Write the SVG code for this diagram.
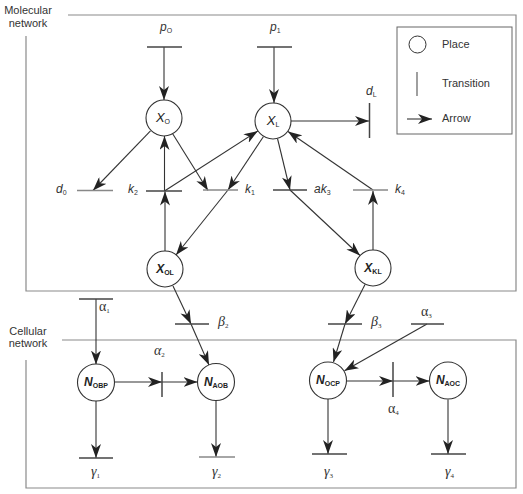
<svg xmlns="http://www.w3.org/2000/svg" width="523" height="494" viewBox="0 0 523 494">
<style>
.frame{fill:none;stroke:#8a8a8a;stroke-width:1.2}
.place{fill:#fff;stroke:#333;stroke-width:1.1}
.bar{stroke:#444;stroke-width:1.5}
.bar2{stroke:#888;stroke-width:1.6}
.arc{fill:none;stroke:#333;stroke-width:1.1;marker-end:url(#ah)}
.line{fill:none;stroke:#333;stroke-width:1.1}
.lbl{font-family:"Liberation Sans",Arial,sans-serif;font-size:11px;fill:#333}
.var{font-family:"Liberation Sans",Arial,sans-serif;font-size:12px;font-style:italic;fill:#333}
.grk{font-family:"Liberation Serif","Times New Roman",serif;font-size:14px;fill:#333}
.sub{font-size:7px;font-style:normal}
.nl{font-family:"Liberation Sans",Arial,sans-serif;font-size:13px;font-style:italic;fill:#222}
.nb{font-family:"Liberation Sans",Arial,sans-serif;font-size:12px;font-style:italic;font-weight:bold;fill:#222}
</style>
<defs>
<marker id="ah" markerUnits="userSpaceOnUse" markerWidth="14" markerHeight="10" refX="14" refY="5" orient="auto">
<path d="M0,0 L14,5 L0,10 L4,5 z" fill="#222"/>
</marker>
</defs>

<g id="frames">
<path class="frame" d="M68,15 H516 V291 H26 V36"/>
<path class="frame" d="M62,340 H516 V488 H26 V360"/>
<text class="lbl" x="28" y="13.5" text-anchor="middle">Molecular</text>
<text class="lbl" x="28" y="26.5" text-anchor="middle">network</text>
<text class="lbl" x="28" y="335" text-anchor="middle">Cellular</text>
<text class="lbl" x="28" y="347" text-anchor="middle">network</text>
</g>

<g id="legend">
<rect x="397" y="27" width="115" height="107" fill="none" stroke="#666" stroke-width="1"/>
<circle cx="417.5" cy="44.5" r="8.5" fill="none" stroke="#333" stroke-width="1"/>
<line x1="417" y1="72" x2="417" y2="96" class="bar2"/>
<line x1="407" y1="119" x2="432" y2="119" class="arc"/>
<text class="lbl" x="442" y="48">Place</text>
<text class="lbl" x="442" y="87">Transition</text>
<text class="lbl" x="442" y="122">Arrow</text>
</g>

<g id="connectors">
<line class="arc" x1="164" y1="47" x2="164" y2="100"/>
<line class="arc" x1="274" y1="47" x2="274" y2="103"/>
<line class="arc" x1="291" y1="121" x2="369" y2="121"/>
<line class="arc" x1="150.5" y1="130.8" x2="93" y2="190.5"/>
<line class="arc" x1="172.5" y1="133.5" x2="208" y2="190.5"/>
<line class="arc" x1="164.5" y1="191" x2="164.5" y2="136"/>
<line class="arc" x1="165" y1="251" x2="165" y2="191.5"/>
<line class="arc" x1="164.5" y1="191" x2="257.8" y2="131"/>
<line class="arc" x1="263.5" y1="136.5" x2="228" y2="190"/>
<line class="arc" x1="228" y1="190" x2="176" y2="255"/>
<line class="arc" x1="277.5" y1="138.5" x2="290" y2="190"/>
<line class="arc" x1="290" y1="190" x2="360" y2="255.5"/>
<line class="arc" x1="373" y1="250" x2="373" y2="191"/>
<line class="arc" x1="373" y1="190" x2="288" y2="131.5"/>
<line class="arc" x1="173" y1="286" x2="191" y2="324"/>
<line class="arc" x1="191" y1="324" x2="209" y2="365"/>
<line class="arc" x1="365" y1="284.5" x2="345" y2="324"/>
<line class="arc" x1="345" y1="324" x2="333.5" y2="362"/>
<line class="arc" x1="427" y1="324" x2="344.5" y2="370.8"/>
<line class="arc" x1="96" y1="299" x2="96" y2="364.5"/>
<line class="arc" x1="114.5" y1="382" x2="162" y2="382"/>
<line class="arc" x1="162" y1="382" x2="197.5" y2="382"/>
<line class="arc" x1="347" y1="381" x2="393" y2="381"/>
<line class="arc" x1="393" y1="381" x2="429.5" y2="381"/>
<line class="arc" x1="96" y1="401" x2="96" y2="458"/>
<line class="arc" x1="216" y1="400.5" x2="216" y2="457"/>
<line class="arc" x1="328" y1="399" x2="328" y2="454"/>
<line class="arc" x1="448" y1="399.5" x2="448" y2="454"/>
</g>

<g id="t_pO"><line class="bar" x1="147" y1="47" x2="182" y2="47"/><text class="var" x="160" y="31">p<tspan class="sub" dy="2">O</tspan></text></g>
<g id="t_p1"><line class="bar" x1="257" y1="47" x2="292" y2="47"/><text class="var" x="270" y="31">p<tspan class="sub" dy="2">1</tspan></text></g>
<g id="t_dL"><line class="bar" x1="369.5" y1="103" x2="369.5" y2="138"/><text class="var" x="366" y="95">d<tspan class="sub" dy="2">L</tspan></text></g>
<g id="t_d0"><line class="bar2" x1="77" y1="190.5" x2="113" y2="190.5"/><text class="var" x="56" y="193">d<tspan class="sub" dy="2">0</tspan></text></g>
<g id="t_k2"><line class="bar" x1="146" y1="191" x2="182" y2="191"/><text class="var" x="128" y="193">k<tspan class="sub" dy="2">2</tspan></text></g>
<g id="t_k1"><line class="bar2" x1="203" y1="190" x2="238" y2="190"/><text class="var" x="245" y="193">k<tspan class="sub" dy="2">1</tspan></text></g>
<g id="t_ak3"><line class="bar" x1="273" y1="190" x2="307" y2="190"/><text class="var" x="314" y="193">ak<tspan class="sub" dy="2">3</tspan></text></g>
<g id="t_k4"><line class="bar2" x1="353" y1="190" x2="388" y2="190"/><text class="var" x="395" y="193">k<tspan class="sub" dy="2">4</tspan></text></g>
<g id="t_a1"><line class="bar" x1="79" y1="299" x2="113" y2="299"/><text class="grk" x="99" y="311">α<tspan class="sub" dy="2">1</tspan></text></g>
<g id="t_b2"><line class="bar" x1="175" y1="324" x2="209" y2="324"/><text class="grk" x="218" y="326" font-style="italic">β<tspan class="sub" dy="2">2</tspan></text></g>
<g id="t_a2"><line class="bar" x1="162" y1="372" x2="162" y2="397"/><text class="grk" x="154" y="355" font-style="italic">α<tspan class="sub" dy="2">2</tspan></text></g>
<g id="t_b3"><line class="bar" x1="328" y1="324" x2="362" y2="324"/><text class="grk" x="371" y="326" font-style="italic">β<tspan class="sub" dy="2">3</tspan></text></g>
<g id="t_a3"><line class="bar" x1="411" y1="324" x2="444" y2="324"/><text class="grk" x="421" y="316">α<tspan class="sub" dy="2">3</tspan></text></g>
<g id="t_a4"><line class="bar" x1="393" y1="362" x2="393" y2="397"/><text class="grk" x="388" y="413">α<tspan class="sub" dy="2">4</tspan></text></g>
<g id="t_g1"><line class="bar" x1="79" y1="458" x2="113" y2="458"/><text class="grk" x="91" y="476" font-style="italic">γ<tspan class="sub" dy="2">1</tspan></text></g>
<g id="t_g2"><line class="bar2" x1="199" y1="457" x2="235" y2="457"/><text class="grk" x="212" y="476" font-style="italic">γ<tspan class="sub" dy="2">2</tspan></text></g>
<g id="t_g3"><line class="bar" x1="312" y1="454" x2="347" y2="454"/><text class="grk" x="324" y="476" font-style="italic">γ<tspan class="sub" dy="2">3</tspan></text></g>
<g id="t_g4"><line class="bar" x1="431" y1="454" x2="466" y2="454"/><text class="grk" x="445" y="476" font-style="italic">γ<tspan class="sub" dy="2">4</tspan></text></g>

<g id="p_XO"><circle class="place" cx="164" cy="118" r="18"/><text class="nl" x="163" y="122" text-anchor="middle">X<tspan class="sub" dy="2">O</tspan></text></g>
<g id="p_XL"><circle class="place" cx="273" cy="121" r="18"/><text class="nl" x="273" y="125" text-anchor="middle">X<tspan class="sub" dy="2">L</tspan></text></g>
<g id="p_XOL"><circle class="place" cx="165" cy="269" r="18"/><text class="nb" x="165" y="273" text-anchor="middle">X<tspan class="sub" dy="2" font-weight="bold">OL</tspan></text></g>
<g id="p_XKL"><circle class="place" cx="373" cy="268" r="18"/><text class="nb" x="373" y="272" text-anchor="middle">X<tspan class="sub" dy="2" font-weight="bold">KL</tspan></text></g>
<g id="p_NOBP"><circle class="place" cx="96" cy="382.5" r="18.5"/><text class="nb" x="96" y="386" text-anchor="middle">N<tspan class="sub" dy="2" font-weight="bold">OBP</tspan></text></g>
<g id="p_NAOB"><circle class="place" cx="216" cy="382" r="18.5"/><text class="nb" x="216" y="386" text-anchor="middle">N<tspan class="sub" dy="2" font-weight="bold">AOB</tspan></text></g>
<g id="p_NOCP"><circle class="place" cx="328" cy="380.5" r="18.5"/><text class="nb" x="328" y="384" text-anchor="middle">N<tspan class="sub" dy="2" font-weight="bold">OCP</tspan></text></g>
<g id="p_NAOC"><circle class="place" cx="448" cy="380.5" r="18.5"/><text class="nb" x="448" y="384" text-anchor="middle">N<tspan class="sub" dy="2" font-weight="bold">AOC</tspan></text></g>
</svg>
